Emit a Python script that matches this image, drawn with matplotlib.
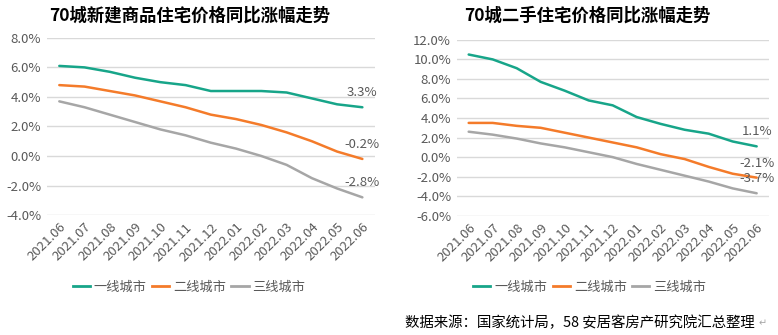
import matplotlib
matplotlib.use("Agg")
import matplotlib.pyplot as plt
from matplotlib.lines import Line2D

plt.rcParams["font.family"] = ["Noto Sans CJK SC", "DejaVu Sans"]

months = ["2021.06", "2021.07", "2021.08", "2021.09", "2021.10", "2021.11", "2021.12",
          "2022.01", "2022.02", "2022.03", "2022.04", "2022.05", "2022.06"]
series_names = ["一线城市", "二线城市", "三线城市"]

# 新建商品住宅
new_tier1 = [6.1, 6.0, 5.7, 5.3, 5.0, 4.8, 4.4, 4.4, 4.4, 4.3, 3.9, 3.5, 3.3]
new_tier2 = [4.8, 4.7, 4.4, 4.1, 3.7, 3.3, 2.8, 2.5, 2.1, 1.6, 1.0, 0.3, -0.2]
new_tier3 = [3.7, 3.3, 2.8, 2.3, 1.8, 1.4, 0.9, 0.5, 0.0, -0.6, -1.5, -2.2, -2.8]

# 二手住宅
used_tier1 = [10.5, 10.0, 9.1, 7.7, 6.8, 5.8, 5.3, 4.1, 3.4, 2.8, 2.4, 1.6, 1.1]
used_tier2 = [3.5, 3.5, 3.2, 3.0, 2.5, 2.0, 1.5, 1.0, 0.3, -0.2, -1.0, -1.7, -2.1]
used_tier3 = [2.6, 2.3, 1.9, 1.4, 1.0, 0.5, 0.0, -0.7, -1.3, -1.9, -2.5, -3.2, -3.7]

colors = ["#17A589", "#F47B2A", "#A6A6A6"]
text_gray = "#595959"


def draw_panel(ax, data, title, yticks, title_x):
    x = list(range(len(months)))
    for vals, c in zip(data, colors):
        ax.plot(x, vals, color=c, linewidth=1.8, solid_capstyle="round")
        ax.annotate(f"{vals[-1]:.1f}%", (x[-1], vals[-1]), xytext=(0, 10.5),
                    textcoords="offset points", ha="center", va="center",
                    fontsize=9.5, color=text_gray)
    ax.set_xlim(-0.5, len(months) - 0.5)
    ax.set_ylim(yticks[0], yticks[-1])
    ax.set_yticks(yticks)
    ax.set_yticklabels([f"{v:.1f}%" for v in yticks], fontsize=9.5, color=text_gray)
    ax.set_xticks(x)
    ax.set_xticklabels(months, rotation=45, ha="right", rotation_mode="anchor",
                       fontsize=9.5, color=text_gray)
    ax.tick_params(length=0, pad=4)
    ax.grid(axis="y", color="#D9D9D9", linewidth=1)
    ax.set_axisbelow(True)
    for s in ax.spines.values():
        s.set_visible(False)
    fig.text(title_x, 1 - 16 / 335, title, ha="center", va="center",
             fontsize=12.5, fontweight="bold", color="black")


fig = plt.figure(figsize=(7.78, 3.35), dpi=100)
ax1 = fig.add_axes([0.060, 0.358, 0.422, 0.529])
ax2 = fig.add_axes([0.587, 0.356, 0.401, 0.525])

draw_panel(ax1, [new_tier1, new_tier2, new_tier3], "70城新建商品住宅价格同比涨幅走势",
           [-4, -2, 0, 2, 4, 6, 8], 190 / 778)
draw_panel(ax2, [used_tier1, used_tier2, used_tier3], "70城二手住宅价格同比涨幅走势",
           [-6, -4, -2, 0, 2, 4, 6, 8, 10, 12], 587 / 778)

handles = [Line2D([], [], color=c, linewidth=2) for c in colors]
for cx in (0.243, 0.758):
    fig.legend(handles, series_names, loc="center", bbox_to_anchor=(cx, 1 - 287 / 335),
               ncol=3, frameon=False, fontsize=9.5, labelcolor=text_gray,
               handlelength=1.3, handletextpad=0.3, columnspacing=0.4)

fig.text(0.97, 1 - 323 / 335, "数据来源：国家统计局，58 安居客房产研究院汇总整理",
         ha="right", va="center", fontsize=10.4, color="black")
fig.text(0.985, 1 - 323 / 335, "↵", ha="right", va="center", fontsize=7, color="#A6A6A6")

fig.savefig("out.png", dpi=100)
